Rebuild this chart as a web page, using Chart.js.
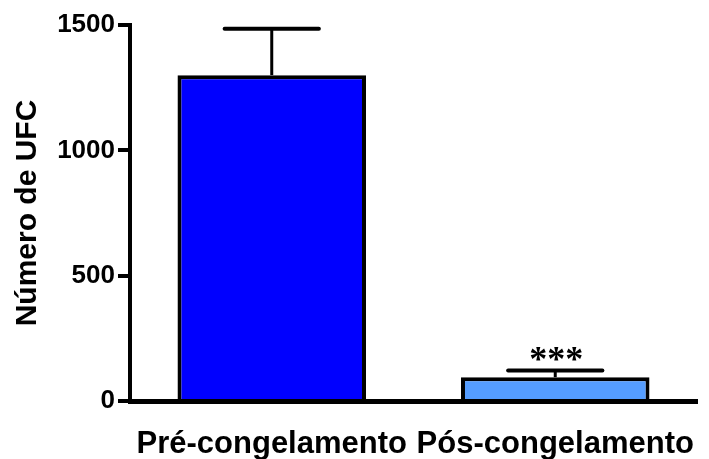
<!DOCTYPE html>
<html>
<head>
<meta charset="utf-8">
<script src="https://cdn.jsdelivr.net/npm/chart.js@4/dist/chart.umd.min.js"></script>
<style>
  html, body { margin: 0; padding: 0; background: #fff; }
  #wrap { width: 709px; height: 459px; }
</style>
</head>
<body>
<div id="wrap"><canvas id="ufcChart" width="709" height="459"></canvas></div>
<script>
// data
const categories = ['Pré-congelamento', 'Pós-congelamento'];
const meanValues = [1300, 95];
const errorValues = [185, 27];
const significance = ['', '***'];
const barColors = ['#0000ff', '#559dff'];
const yTicks = [0, 500, 1000, 1500];

// error bars + significance stars
const errorBarPlugin = {
  id: 'errorBars',
  afterDatasetsDraw(chart) {
    const ctx = chart.ctx;
    const yScale = chart.scales.y;
    const meta = chart.getDatasetMeta(0);
    meta.data.forEach((bar, i) => {
      const x = bar.x;
      const yBar = yScale.getPixelForValue(meanValues[i]);
      const yTop = yScale.getPixelForValue(meanValues[i] + errorValues[i]);
      const half = bar.width / 4;
      ctx.save();
      ctx.strokeStyle = '#000';
      ctx.lineWidth = 3;
      ctx.beginPath();
      ctx.moveTo(x, yBar);
      ctx.lineTo(x, yTop);
      ctx.stroke();
      ctx.lineWidth = 4;
      ctx.lineCap = 'round';
      ctx.beginPath();
      ctx.moveTo(x - half, yTop);
      ctx.lineTo(x + half, yTop);
      ctx.stroke();
      if (significance[i]) {
        ctx.fillStyle = '#000';
        ctx.font = 'bold 36px "Liberation Serif", "Times New Roman", serif';
        ctx.textAlign = 'center';
        ctx.textBaseline = 'alphabetic';
        ctx.fillText(significance[i], x + 1, yTop + 1);
      }
      ctx.restore();
    });
  }
};

const ctx = document.getElementById('ufcChart').getContext('2d');
new Chart(ctx, {
  type: 'bar',
  data: {
    labels: categories,
    datasets: [{
      data: meanValues,
      backgroundColor: barColors,
      borderColor: '#000',
      borderWidth: 4,
      barPercentage: 0.665,
      categoryPercentage: 1.0
    }]
  },
  options: {
    responsive: false,
    animation: false,
    layout: {
      padding: { top: 25, right: 12, left: 0, bottom: 0 }
    },
    plugins: {
      legend: { display: false },
      tooltip: { enabled: false }
    },
    scales: {
      x: {
        z: 1,
        grid: { display: false, drawTicks: false },
        border: { display: true, color: '#000', width: 5 },
        ticks: {
          color: '#000',
          padding: 25,
          font: { family: '"Liberation Sans", Arial, sans-serif', size: 31, weight: 'bold' }
        },
        afterFit(scale) {
          scale.height = 58;
          // keep the plot edges where the figure has them
          scale.paddingLeft = 0;
          scale.paddingRight = 0;
        }
      },
      y: {
        z: 1,
        min: 0,
        max: 1500,
        afterBuildTicks(scale) { scale.ticks = yTicks.map(v => ({ value: v })); },
        grid: { drawOnChartArea: false, drawTicks: true, tickLength: 12, lineWidth: 4, color: '#000' },
        border: { display: true, color: '#000', width: 4 },
        ticks: {
          color: '#000',
          padding: 3,
          callback: (v) => String(v),
          font: { family: '"Liberation Sans", Arial, sans-serif', size: 26, weight: 'bold' }
        },
        title: {
          display: true,
          text: 'Número de UFC',
          color: '#000',
          padding: { top: 10, bottom: 0 },
          font: { family: '"Liberation Sans", Arial, sans-serif', size: 30, weight: 'bold' }
        },
        afterFit(scale) { scale.width = 130; }
      }
    }
  },
  plugins: [errorBarPlugin]
});
</script>
</body>
</html>
